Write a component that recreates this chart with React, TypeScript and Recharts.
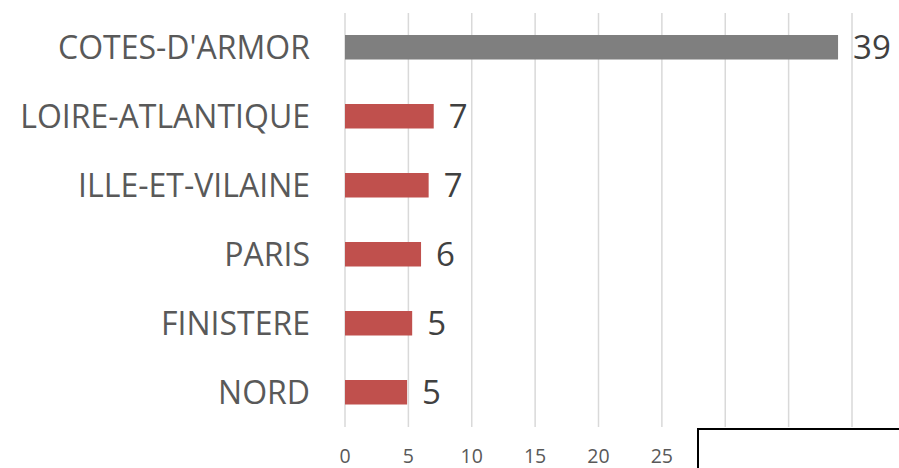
import React from 'react';
import { BarChart, Bar, XAxis, YAxis, CartesianGrid, Cell, LabelList } from 'recharts';

const departements = ['COTES-D\'ARMOR', 'LOIRE-ATLANTIQUE', 'ILLE-ET-VILAINE', 'PARIS', 'FINISTERE', 'NORD'];
const effectifs = [38.9, 7.0, 6.6, 6.0, 5.3, 4.9];
const couleurs = ['#7f7f7f', '#c0504d', '#c0504d', '#c0504d', '#c0504d', '#c0504d'];
const xTicks = [0, 5, 10, 15, 20, 25, 30, 35, 40];

const data = departements.map((name, i) => ({ name, value: effectifs[i] }));

const FONT = '"Open Sans", sans-serif';

export default function App() {
  return (
    <div style={{ position: 'absolute', left: 0, top: 0, width: 899, height: 468, background: '#fff', overflow: 'hidden' }}>
      <BarChart
        width={899}
        height={468}
        data={data}
        layout="vertical"
        margin={{ top: 13, right: 47, left: 0, bottom: 0 }}
      >
        <CartesianGrid horizontal={false} stroke="#d9d9d9" strokeWidth={1.5} />
        <XAxis
          type="number"
          domain={[0, 40]}
          ticks={xTicks}
          axisLine={false}
          tickLine={false}
          tickMargin={16}
          height={41}
          tick={{ fill: '#595959', fontSize: 19.5, fontFamily: FONT }}
        />
        <YAxis
          type="category"
          dataKey="name"
          width={345}
          axisLine={false}
          tickLine={false}
          tickMargin={29}
          tick={{ fill: '#595959', fontSize: 32, fontFamily: FONT }}
        />
        <Bar dataKey="value" barSize={24.5} isAnimationActive={false}>
          {data.map((d, i) => (
            <Cell key={d.name} fill={couleurs[i]} />
          ))}
          <LabelList
            dataKey="value"
            position="right"
            offset={15}
            formatter={(v: number) => Math.round(v)}
            style={{ fill: '#404040', fontSize: 33, fontFamily: FONT }}
          />
        </Bar>
      </BarChart>
      <div
        style={{
          position: 'absolute',
          left: 697,
          top: 428,
          width: 260,
          height: 80,
          background: '#fff',
          border: '2px solid #000',
        }}
      />
    </div>
  );
}
